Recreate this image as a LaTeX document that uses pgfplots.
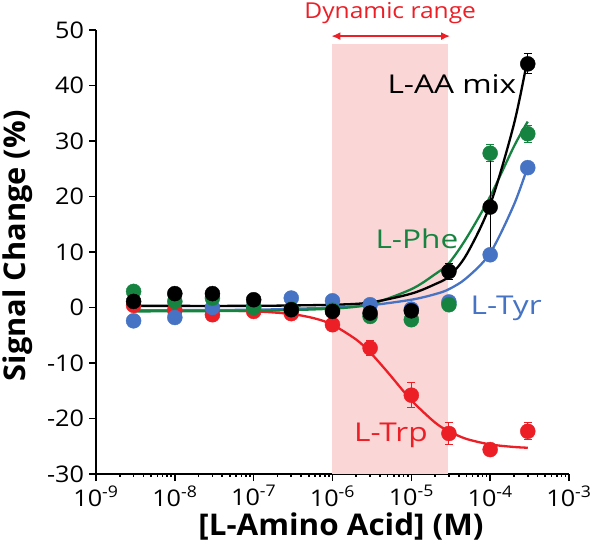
\documentclass[border=0pt]{standalone}
\usepackage{pgfplots}
\pgfplotsset{compat=1.18}
\usetikzlibrary{arrows.meta}
\usepackage{fontspec}
\setmainfont{Open Sans}
\definecolor{cred}{RGB}{236,30,38}
\definecolor{cgreen}{RGB}{22,132,64}
\definecolor{cblue}{RGB}{70,115,195}
\definecolor{cshade}{RGB}{250,214,214}

\pgfplotstableread{
x y e
3e-9 0.4 0
1e-8 -0.5 0
3e-8 -1.3 0
1e-7 -0.7 0
3e-7 -1.1 0
1e-6 -3.1 0
3e-6 -7.3 1.3
1e-5 -15.8 2.3
3e-5 -22.7 2.0
1e-4 -25.6 0
3e-4 -22.3 1.5
}\trpdata
\pgfplotstableread{
x y e
3e-9 -2.4 0
1e-8 -1.8 0
3e-8 0.0 0
1e-7 0.2 0
3e-7 1.7 0
1e-6 1.2 0
3e-6 0.5 0
1e-5 -0.3 0
3e-5 1.0 0
1e-4 9.5 0
3e-4 25.2 0
}\tyrdata
\pgfplotstableread{
x y e
3e-9 2.9 0
1e-8 1.1 0
3e-8 1.7 0
1e-7 0.0 0
3e-7 -0.3 0
1e-6 -0.5 0
3e-6 -1.6 0
1e-5 -2.2 0
3e-5 0.5 0
1e-4 27.8 1.5
3e-4 31.3 1.5
}\phedata
\pgfplotstableread{
x y e
3e-9 1.1 0
1e-8 2.5 0
3e-8 2.5 0
1e-7 1.4 0
3e-7 -0.4 0
1e-6 -0.7 0
3e-6 -1.0 0
1e-5 -0.6 0
3e-5 6.5 1.5
1e-4 18.1 9.5
3e-4 43.9 1.8
}\mixdata

\begin{document}
\begin{tikzpicture}
\begin{axis}[
  scale only axis, width=473bp, height=444bp,
  xmode=log, xmin=1e-9, xmax=1e-3, ymin=-30, ymax=50,
  axis lines=left, axis line style={-, line width=1.6bp},
  clip=false,
  xtick={1e-9,1e-8,1e-7,1e-6,1e-5,1e-4,1e-3},
  xticklabels={10\textsuperscript{-9},10\textsuperscript{-8},10\textsuperscript{-7},10\textsuperscript{-6},10\textsuperscript{-5},10\textsuperscript{-4},10\textsuperscript{-3}},
  ytick={-30,-20,-10,0,10,20,30,40,50},
  yticklabels={-30,-20,-10,0,10,20,30,40,50},
  minor xtick={},
  tick style={line width=1.6bp, black},
  tick align=outside, major tick length=7bp,
  ticklabel style={font=\fontsize{23}{25}\selectfont, xscale=1.1},
  xticklabel style={yshift=-1bp},
  yticklabel style={xshift=-1bp},
  xlabel={\bfseries [L-Amino Acid] (M)},
  ylabel={\bfseries Signal Change (\%)},
  every axis x label/.style={at={(axis description cs:0.518,-0.119)}, anchor=center, font=\fontsize{30}{32}\selectfont, xscale=1.05},
  every axis y label/.style={at={(axis description cs:-0.166,0.514)}, anchor=center, rotate=90, font=\fontsize{30}{32}\selectfont, xscale=1.03},
  error bars/y dir=both, error bars/y explicit,
]
% dynamic range shading
\fill[cshade] (axis cs:1e-6,-30) rectangle (axis cs:2.9e-5,47.5);
\draw[cred, line width=1.6bp, <->, >={Latex[length=9bp,width=8bp]}] (axis cs:0.97e-6,48.9) -- (axis cs:3.1e-5,48.9);
\node[cred, font=\fontsize{22}{24}\selectfont, anchor=base, xscale=1.12] at (axis cs:5.4e-6,52.0) {Dynamic range};

% fitted curves
\addplot[cred, line width=2.3bp, smooth, no markers, error bars/y dir=none] coordinates {
(3e-9,-0.5) (1e-8,-0.51) (3e-8,-0.54) (1e-7,-0.68) (3e-7,-1.17) (6e-7,-1.98) (1e-6,-3.11) (2e-6,-5.78) (3e-6,-8.08) (5e-6,-11.64) (1e-5,-16.7) (2e-5,-20.73) (3e-5,-22.3) (5e-5,-23.68) (1e-4,-24.67) (2e-4,-25.13) (3e-4,-25.27)};
\addplot[cblue, line width=2.3bp, smooth, no markers, error bars/y dir=none] coordinates {
(3e-9,-0.5) (1e-7,-0.4) (1e-6,0) (3e-6,0.4) (1e-5,1.4) (2e-5,2.4) (3e-5,3.3) (5e-5,5.3) (1e-4,9.8) (2e-4,18.5) (3e-4,25.4)};
\addplot[cgreen, line width=2.3bp, smooth, no markers, error bars/y dir=none] coordinates {
(3e-9,-0.7) (1e-7,-0.6) (1e-6,-0.2) (3e-6,0.6) (1e-5,3.3) (2e-5,6) (3e-5,8) (5e-5,12.5) (1e-4,20) (2e-4,29) (3e-4,33.5)};
\addplot[black, line width=2.3bp, smooth, no markers, error bars/y dir=none] coordinates {
(3e-9,0.3) (1e-7,0.3) (1e-6,0.5) (3e-6,0.9) (1e-5,2.5) (2e-5,4.2) (3e-5,5.6) (5e-5,9.5) (1e-4,18.5) (2e-4,33) (3e-4,45)};

% data points
\addplot[only marks, mark=*, mark size=7.5bp, cred, error bars/error bar style={line width=1bp, cred}, error bars/error mark options={rotate=90, mark size=4bp, line width=1bp, cred}] table[x=x, y=y, y error=e] {\trpdata};
\addplot[only marks, mark=*, mark size=7.5bp, cblue, error bars/error bar style={line width=1bp, cblue}, error bars/error mark options={rotate=90, mark size=4bp, line width=1bp, cblue}] table[x=x, y=y, y error=e] {\tyrdata};
\addplot[only marks, mark=*, mark size=7.5bp, cgreen, error bars/error bar style={line width=1bp, cgreen}, error bars/error mark options={rotate=90, mark size=4bp, line width=1bp, cgreen}] table[x=x, y=y, y error=e] {\phedata};
\addplot[only marks, mark=*, mark size=7.5bp, black, error bars/error bar style={line width=1bp, black}, error bars/error mark options={rotate=90, mark size=4bp, line width=1bp, black}] table[x=x, y=y, y error=e] {\mixdata};

% series labels
\node[anchor=base west, font=\fontsize{26}{30}\selectfont, xscale=1.22, black] at (axis cs:4.4e-6,38.6) {L-AA mix};
\node[anchor=base west, font=\fontsize{26}{30}\selectfont, xscale=1.22, cgreen] at (axis cs:3.1e-6,10.7) {L-Phe};
\node[anchor=base west, font=\fontsize{26}{30}\selectfont, xscale=1.22, cblue] at (axis cs:5.0e-5,-1.3) {L-Tyr};
\node[anchor=base west, font=\fontsize{26}{30}\selectfont, xscale=1.22, cred] at (axis cs:1.66e-6,-24.2) {L-Trp};
\end{axis}
\pgfresetboundingbox
\path[use as bounding box] (-96bp,-75bp) rectangle (504bp,474bp);
\end{tikzpicture}
\end{document}
